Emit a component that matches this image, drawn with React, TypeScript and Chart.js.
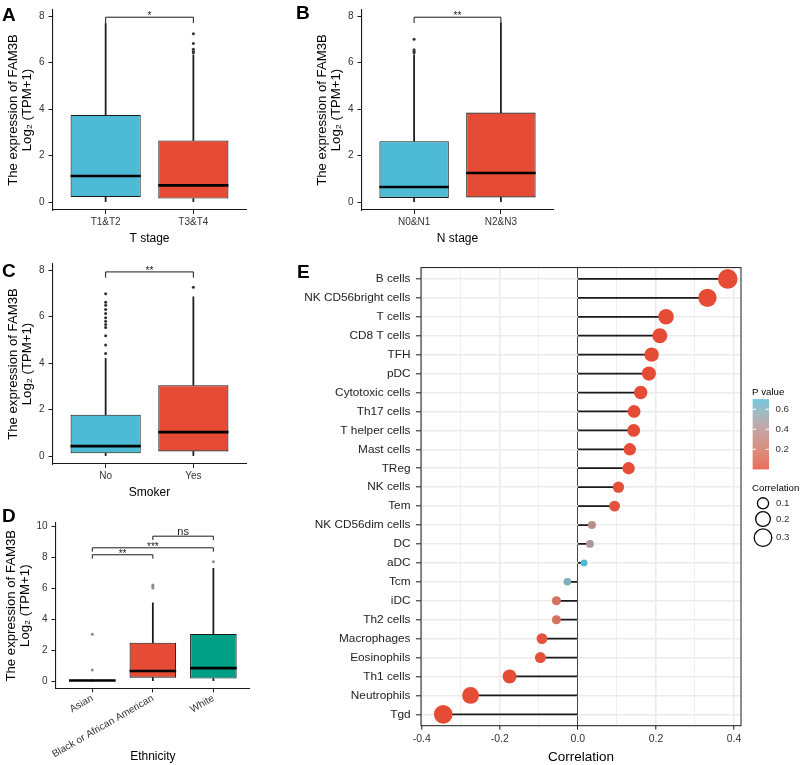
import React, { useEffect, useRef } from "react";
import { Chart, registerables } from "chart.js";

Chart.register(...registerables);

const FONT = "'Liberation Sans', Arial, Helvetica, sans-serif";
const BLUE = "#4DBBD5";
const RED = "#E64B35";
const GREEN = "#00A087";

// ---------- Panel A : T stage  (box stats = [lower whisker, Q1, median, Q3, upper whisker])
const tStageCats = ["T1&T2", "T3&T4"];
const tStageStats = [
  [0, 0.22, 1.12, 3.75, 7.68],
  [0, 0.15, 0.72, 2.65, 6.33],
];
const tStageOutliers = [[], [6.42, 6.48, 6.57, 6.82, 7.24]];
const tStageSig = [{ a: 0, b: 1, y: 7.95, label: "*" }];

// ---------- Panel B : N stage
const nStageCats = ["N0&N1", "N2&N3"];
const nStageStats = [
  [0, 0.18, 0.65, 2.62, 6.33],
  [0, 0.2, 1.25, 3.85, 7.7],
];
const nStageOutliers = [[6.42, 6.48, 6.55, 7.0], []];
const nStageSig = [{ a: 0, b: 1, y: 7.95, label: "**" }];

// ---------- Panel C : Smoker
const smokerCats = ["No", "Yes"];
const smokerStats = [
  [0, 0.12, 0.43, 1.78, 4.2],
  [0, 0.2, 1.03, 3.05, 6.85],
];
const smokerOutliers = [
  [4.41, 4.78, 5.17, 5.53, 5.66, 5.8, 5.95, 6.13, 6.3, 6.49, 6.62, 6.98],
  [7.26],
];
const smokerSig = [{ a: 0, b: 1, y: 7.92, label: "**" }];

// ---------- Panel D : Ethnicity
const ethCats = ["Asian", "Black or African American", "White"];
const ethStats = [
  [0, 0, 0.04, 0.08, 0.08],
  [0, 0.22, 0.65, 2.48, 5.05],
  [0, 0.17, 0.84, 3.04, 7.28],
];
const ethOutliers = [[0.72, 3.02], [6.0, 6.1, 6.2], [7.7]];
const ethSig = [
  { a: 0, b: 1, y: 8.15, label: "**" },
  { a: 0, b: 2, y: 8.6, label: "***" },
  { a: 1, b: 2, y: 9.35, label: "ns" },
];

const boxTicks8 = [0, 2, 4, 6, 8];
const boxTicks10 = [0, 2, 4, 6, 8, 10];
const yTitleLines = ["The expression of FAM3B", "Log\u2082 (TPM+1)"];

// ---------- Panel E : immune cell correlation
const cellTypes = [
  "B cells", "NK CD56bright cells", "T cells", "CD8 T cells", "TFH", "pDC",
  "Cytotoxic cells", "Th17 cells", "T helper cells", "Mast cells", "TReg",
  "NK cells", "Tem", "NK CD56dim cells", "DC", "aDC", "Tcm", "iDC",
  "Th2 cells", "Macrophages", "Eosinophils", "Th1 cells", "Neutrophils", "Tgd",
];
const correlations = [
  0.384, 0.332, 0.226, 0.21, 0.189, 0.182, 0.161, 0.144, 0.143, 0.133, 0.13,
  0.104, 0.094, 0.036, 0.031, 0.016, -0.027, -0.055, -0.055, -0.092, -0.096,
  -0.175, -0.275, -0.345,
];
const pValues = [
  0, 0, 0, 0, 0, 0, 0.001, 0.002, 0.002, 0.004, 0.005, 0.02, 0.03, 0.38,
  0.43, 0.7, 0.6, 0.19, 0.19, 0.03, 0.02, 0, 0, 0,
];
const corrTicks = [-0.4, -0.3, -0.2, -0.1, 0, 0.1, 0.2, 0.3, 0.4];
const corrTickLabels = ["-0.4", "", "-0.2", "", "0.0", "", "0.2", "", "0.4"];
const pLegendTicks = [0.2, 0.4, 0.6];
const sizeLegendValues = [0.1, 0.2, 0.3];

// ---------- helpers
const sizeOf = (c: number) => Math.sqrt(8 + 230 * Math.abs(c));

function hexToRgb(h: string) {
  const n = parseInt(h.slice(1), 16);
  return [(n >> 16) & 255, (n >> 8) & 255, n & 255];
}
const toLin = (c: number) => {
  c /= 255;
  return c <= 0.04045 ? c / 12.92 : Math.pow((c + 0.055) / 1.055, 2.4);
};
const fromLin = (c: number) => {
  const v = c <= 0.0031308 ? 12.92 * c : 1.055 * Math.pow(c, 1 / 2.4) - 0.055;
  return Math.round(Math.max(0, Math.min(1, v)) * 255);
};
function rgbToLab(rgb: number[]) {
  const [r, g, b] = rgb.map(toLin);
  const X = (0.4124564 * r + 0.3575761 * g + 0.1804375 * b) / 0.95047;
  const Y = 0.2126729 * r + 0.7151522 * g + 0.072175 * b;
  const Z = (0.0193339 * r + 0.119192 * g + 0.9503041 * b) / 1.08883;
  const f = (t: number) => (t > 216 / 24389 ? Math.cbrt(t) : ((24389 / 27) * t + 16) / 116);
  const fx = f(X), fy = f(Y), fz = f(Z);
  return [116 * fy - 16, 500 * (fx - fy), 200 * (fy - fz)];
}
function labToRgb(lab: number[]) {
  const [L, a, b] = lab;
  const fy = (L + 16) / 116, fx = fy + a / 500, fz = fy - b / 200;
  const fi = (t: number) => (t * t * t > 216 / 24389 ? t * t * t : (116 * t - 16) / (24389 / 27));
  const X = fi(fx) * 0.95047, Y = fi(fy), Z = fi(fz) * 1.08883;
  const r = 3.2404542 * X - 1.5371385 * Y - 0.4985314 * Z;
  const g = -0.969266 * X + 1.8760108 * Y + 0.041556 * Z;
  const bb = 0.0556434 * X - 0.2040259 * Y + 1.0572252 * Z;
  return [fromLin(r), fromLin(g), fromLin(bb)];
}
const LOW_LAB = rgbToLab(hexToRgb(RED));
const HIGH_LAB = rgbToLab(hexToRgb(BLUE));
const P_MIN = Math.min(...pValues);
const P_MAX = Math.max(...pValues);
function colorOf(p: number) {
  const t = Math.max(0, Math.min(1, (p - P_MIN) / (P_MAX - P_MIN)));
  const lab = LOW_LAB.map((v, i) => v + (HIGH_LAB[i] - v) * t);
  const [r, g, b] = labToRgb(lab);
  return `rgb(${r},${g},${b})`;
}

// ---------- plugins
const boxExtras = {
  id: "boxExtras",
  afterDatasetsDraw(chart: any, _args: any, opts: any) {
    const { ctx } = chart;
    const x = chart.scales.x, y = chart.scales.y;
    const meta = chart.getDatasetMeta(0);
    ctx.save();
    ctx.strokeStyle = "#000";
    ctx.lineWidth = 2.6;
    opts.stats.forEach((s: number[], i: number) => {
      const el = meta.data[i];
      const half = el.width / 2;
      const py = y.getPixelForValue(s[2]);
      ctx.beginPath();
      ctx.moveTo(el.x - half, py);
      ctx.lineTo(el.x + half, py);
      ctx.stroke();
    });
    ctx.lineWidth = 1;
    ctx.strokeStyle = "#1a1a1a";
    ctx.fillStyle = "#1a1a1a";
    ctx.textAlign = "center";
    ctx.textBaseline = "alphabetic";
    opts.sig.forEach((b: any) => {
      const x1 = x.getPixelForValue(b.a), x2 = x.getPixelForValue(b.b);
      const yb = y.getPixelForValue(b.y), yt = y.getPixelForValue(b.y - opts.tip);
      ctx.beginPath();
      ctx.moveTo(x1, yt);
      ctx.lineTo(x1, yb);
      ctx.lineTo(x2, yb);
      ctx.lineTo(x2, yt);
      ctx.stroke();
      const star = b.label.indexOf("*") >= 0;
      ctx.font = `${star ? 10 : 11}px ${FONT}`;
      ctx.fillText(b.label, (x1 + x2) / 2, star ? yb + 2 : yb - 1.5);
    });
    ctx.restore();
  },
};

const E_LEFT = 280;
const E_TOP = 255;

const eExtras = {
  id: "eExtras",
  afterDraw(chart: any) {
    const { ctx, chartArea: ca } = chart;
    ctx.save();
    ctx.strokeStyle = "#1a1a1a";
    ctx.lineWidth = 1;
    ctx.strokeRect(ca.left, ca.top, ca.right - ca.left, ca.bottom - ca.top);

    // P value colour bar
    const bx = 752.7 - E_LEFT, bw = 16.3, bTop = 399.3 - E_TOP, bh = 70;
    const bBottom = bTop + bh;
    for (let k = 0; k < bh; k++) {
      const p = P_MIN + (P_MAX - P_MIN) * (1 - (k + 0.5) / bh);
      ctx.fillStyle = colorOf(p);
      ctx.fillRect(bx, bTop + k, bw, 1.05);
    }
    const pToY = (p: number) => bBottom - ((p - P_MIN) / (P_MAX - P_MIN)) * bh;
    ctx.strokeStyle = "#fff";
    ctx.lineWidth = 1;
    ctx.fillStyle = "#333";
    ctx.font = `9.7px ${FONT}`;
    ctx.textAlign = "left";
    ctx.textBaseline = "middle";
    pLegendTicks.forEach((p) => {
      const yy = pToY(p);
      ctx.beginPath();
      ctx.moveTo(bx, yy); ctx.lineTo(bx + 3.3, yy);
      ctx.moveTo(bx + bw - 3.3, yy); ctx.lineTo(bx + bw, yy);
      ctx.stroke();
      ctx.fillText(p.toFixed(1), 775.5 - E_LEFT, yy);
    });
    ctx.fillStyle = "#000";
    ctx.fillText("P value", 752 - E_LEFT, 392.7 - E_TOP);

    // size legend
    ctx.fillText("Correlation", 752 - E_LEFT, 488 - E_TOP);
    const ys = [503.3, 519, 537.7];
    ctx.strokeStyle = "#000";
    ctx.lineWidth = 1.3;
    sizeLegendValues.forEach((v, i) => {
      const cy = ys[i] - E_TOP;
      ctx.beginPath();
      ctx.arc(763 - E_LEFT, cy, sizeOf(v), 0, Math.PI * 2);
      ctx.stroke();
      ctx.fillStyle = "#333";
      ctx.fillText(v.toFixed(1), 776 - E_LEFT, cy);
    });
    ctx.restore();
  },
};

// ---------- config builders
type Sig = { a: number; b: number; y: number; label: string };
type BoxPanel = {
  cats: string[]; stats: number[][]; outliers: number[][]; sig: Sig[];
  colors: string[]; yMin: number; yMax: number; yTicks: number[]; xTitle: string;
  pad: { left: number; top: number; right: number; bottom: number };
  yW: number; xH: number; boxWidth: number; rotation: number; outlierColor: string;
  yTitlePad: number; xTitlePad: number; xLabelPad: number;
};

const axisColor = "#1a1a1a";

function boxChartConfig(p: BoxPanel): any {
  const n = p.cats.length;
  return {
    type: "bar",
    data: {
      datasets: [
        {
          type: "bar",
          data: p.stats.map((s, i) => ({ x: i, y: [s[1], s[3]] })),
          backgroundColor: p.colors,
          borderColor: axisColor,
          borderWidth: 1.1,
          borderSkipped: false,
          grouped: false,
          categoryPercentage: p.boxWidth,
          barPercentage: 1,
          order: 1,
        },
        {
          type: "bar",
          data: p.stats.map((s, i) => ({ x: i, y: [s[3], s[4]] })),
          backgroundColor: axisColor,
          borderWidth: 0,
          grouped: false,
          barThickness: 1.1,
          order: 2,
        },
        {
          type: "bar",
          data: p.stats.map((s, i) => ({ x: i, y: [s[0], s[1]] })),
          backgroundColor: axisColor,
          borderWidth: 0,
          grouped: false,
          barThickness: 1.1,
          order: 2,
        },
        {
          type: "scatter",
          data: p.outliers.flatMap((arr, i) => arr.map((v) => ({ x: i, y: v }))),
          pointRadius: 1.5,
          pointBackgroundColor: p.outlierColor,
          pointBorderWidth: 0,
          order: 0,
        },
      ],
    },
    options: {
      responsive: false,
      animation: false,
      events: [],
      layout: { padding: p.pad },
      plugins: {
        legend: { display: false },
        tooltip: { enabled: false },
        boxExtras: { stats: p.stats, sig: p.sig, tip: 0.25 },
      },
      scales: {
        x: {
          type: "linear",
          min: -0.6,
          max: n - 0.4,
          offset: false,
          afterBuildTicks: (s: any) => { s.ticks = p.cats.map((_, i) => ({ value: i })); },
          afterFit: (s: any) => { s.height = p.xH; },
          ticks: {
            callback: (v: any) => p.cats[v],
            autoSkip: false,
            minRotation: p.rotation,
            maxRotation: p.rotation,
            padding: p.xLabelPad,
            color: "#333",
            font: { family: FONT, size: 10 },
          },
          grid: { display: true, offset: false, drawOnChartArea: false, drawTicks: true, tickLength: 4, tickColor: axisColor, tickWidth: 1 },
          border: { display: true, color: axisColor, width: 1.1 },
          title: { display: true, text: p.xTitle, color: "#000", font: { family: FONT, size: 12 }, padding: { top: 0, bottom: p.xTitlePad } },
        },
        y: {
          type: "linear",
          min: p.yMin,
          max: p.yMax,
          afterBuildTicks: (s: any) => { s.ticks = p.yTicks.map((v) => ({ value: v })); },
          afterFit: (s: any) => { s.width = p.yW; },
          ticks: { padding: 4, color: "#333", font: { family: FONT, size: 10 }, callback: (v: any) => String(v) },
          grid: { display: true, offset: false, drawOnChartArea: false, drawTicks: true, tickLength: 4.5, tickColor: axisColor, tickWidth: 1 },
          border: { display: true, color: axisColor, width: 1.1 },
          title: { display: true, text: yTitleLines, color: "#000", font: { family: FONT, size: 13.2, lineHeight: 1.06 }, padding: { top: p.yTitlePad, bottom: 0 } },
        },
      },
    },
    plugins: [boxExtras],
  };
}

function corrChartConfig(): any {
  const isMajor = (v: number) => Math.abs(Math.round(v * 10)) % 2 === 0;
  return {
    type: "bar",
    data: {
      datasets: [
        {
          type: "bar",
          indexAxis: "y",
          data: correlations.map((c, i) => ({ y: i, x: [0, c] })),
          backgroundColor: axisColor,
          borderWidth: 0,
          grouped: false,
          barThickness: 1.1,
          order: 1,
        },
        {
          type: "scatter",
          data: correlations.map((c, i) => ({ x: c, y: i })),
          pointRadius: (ctx: any) => sizeOf(correlations[ctx.dataIndex]),
          pointBackgroundColor: (ctx: any) => colorOf(pValues[ctx.dataIndex]),
          pointBorderWidth: 0,
          order: 0,
        },
      ],
    },
    options: {
      responsive: false,
      animation: false,
      events: [],
      layout: { padding: { left: 0, top: 266.7 - E_TOP, right: 800 - 741, bottom: 0 } },
      plugins: { legend: { display: false }, tooltip: { enabled: false } },
      scales: {
        x: {
          type: "linear",
          min: -0.402,
          max: 0.418,
          offset: false,
          afterBuildTicks: (s: any) => { s.ticks = corrTicks.map((v) => ({ value: v })); },
          afterFit: (s: any) => { s.height = 765 - 725.7; },
          ticks: {
            autoSkip: false,
            maxRotation: 0,
            callback: (_v: any, i: number) => corrTickLabels[i],
            padding: 3.5,
            color: "#333",
            font: { family: FONT, size: 10.5 },
          },
          grid: {
            display: true,
            offset: false,
            drawOnChartArea: true,
            drawTicks: true,
            tickLength: 4,
            color: (ctx: any) => (ctx.tick && Math.abs(ctx.tick.value) < 1e-9 ? "#444" : "#EBEBEB"),
            lineWidth: (ctx: any) => {
              if (!ctx.tick) return 1;
              if (Math.abs(ctx.tick.value) < 1e-9) return 1;
              return isMajor(ctx.tick.value) ? 1.6 : 0.8;
            },
            tickColor: (ctx: any) => (ctx.tick && isMajor(ctx.tick.value) ? axisColor : "rgba(0,0,0,0)"),
            tickWidth: 1,
          },
          border: { display: false },
          title: { display: true, text: "Correlation", color: "#000", font: { family: FONT, size: 13.5 }, padding: { top: 0, bottom: 0 } },
        },
        y: {
          type: "linear",
          reverse: true,
          min: -0.6,
          max: cellTypes.length - 0.4,
          offset: false,
          beginAtZero: false,
          afterBuildTicks: (s: any) => { s.ticks = cellTypes.map((_, i) => ({ value: i })); },
          afterFit: (s: any) => { s.width = 421 - E_LEFT; },
          ticks: {
            autoSkip: false,
            callback: (v: any) => cellTypes[v],
            padding: 5.5,
            color: "#222",
            font: { family: FONT, size: 11.8 },
          },
          grid: { display: true, offset: false, drawOnChartArea: true, drawTicks: true, tickLength: 5, color: "#EBEBEB", lineWidth: 1.6, tickColor: axisColor, tickWidth: 1 },
          border: { display: false },
        },
      },
    },
    plugins: [eExtras],
  };
}

// ---------- components
function ChartCanvas(props: { left: number; top: number; width: number; height: number; make: () => any }) {
  const ref = useRef<HTMLCanvasElement | null>(null);
  useEffect(() => {
    const chart = new Chart(ref.current as HTMLCanvasElement, props.make());
    return () => chart.destroy();
  }, []);
  return (
    <canvas
      ref={ref}
      width={props.width}
      height={props.height}
      style={{ position: "absolute", left: props.left, top: props.top, width: props.width, height: props.height }}
    />
  );
}

function PanelLabel(props: { text: string; left: number; top: number }) {
  return (
    <div
      style={{
        position: "absolute",
        left: props.left,
        top: props.top,
        font: `bold 19px ${FONT}`,
        lineHeight: "19px",
        color: "#000",
      }}
    >
      {props.text}
    </div>
  );
}

export default function App() {
  const base = { yMin: -0.34, yMax: 8.26, yTicks: boxTicks8, yW: 53, xH: 40, boxWidth: 0.8, rotation: 0, outlierColor: "#333", yTitlePad: 6, xTitlePad: 3.8, xLabelPad: 2 };
  return (
    <div style={{ position: "absolute", left: 0, top: 0, width: 800, height: 765, background: "#fff", overflow: "hidden" }}>
      <ChartCanvas
        left={0} top={0} width={260} height={250}
        make={() => boxChartConfig({ ...base, cats: tStageCats, stats: tStageStats, outliers: tStageOutliers, sig: tStageSig, colors: [BLUE, RED], xTitle: "T stage", pad: { left: 0, top: 8, right: 14, bottom: 0 } })}
      />
      <ChartCanvas
        left={309} top={0} width={258} height={250}
        make={() => boxChartConfig({ ...base, cats: nStageCats, stats: nStageStats, outliers: nStageOutliers, sig: nStageSig, colors: [BLUE, RED], xTitle: "N stage", pad: { left: 0, top: 8, right: 14, bottom: 0 } })}
      />
      <ChartCanvas
        left={0} top={254} width={260} height={250}
        make={() => boxChartConfig({ ...base, cats: smokerCats, stats: smokerStats, outliers: smokerOutliers, sig: smokerSig, colors: [BLUE, RED], xTitle: "Smoker", pad: { left: 0, top: 8, right: 14, bottom: 0 } })}
      />
      <ChartCanvas
        left={0} top={513} width={264} height={252}
        make={() => boxChartConfig({ ...base, yMin: -0.47, yMax: 10.2, yTicks: boxTicks10, yW: 56, xH: 76.6, boxWidth: 0.77, rotation: 30, outlierColor: "#8c8c8c", yTitlePad: 4.7, xTitlePad: 0.8, xLabelPad: 0, cats: ethCats, stats: ethStats, outliers: ethOutliers, sig: ethSig, colors: [RED, RED, GREEN], xTitle: "Ethnicity", pad: { left: 0, top: 8.2, right: 14.3, bottom: 0 } })}
      />
      <ChartCanvas left={E_LEFT} top={E_TOP} width={800 - E_LEFT} height={765 - E_TOP} make={corrChartConfig} />
      <PanelLabel text="A" left={2} top={5} />
      <PanelLabel text="B" left={296} top={3} />
      <PanelLabel text="C" left={2} top={260.5} />
      <PanelLabel text="D" left={2} top={505.5} />
      <PanelLabel text="E" left={297} top={261.5} />
    </div>
  );
}
